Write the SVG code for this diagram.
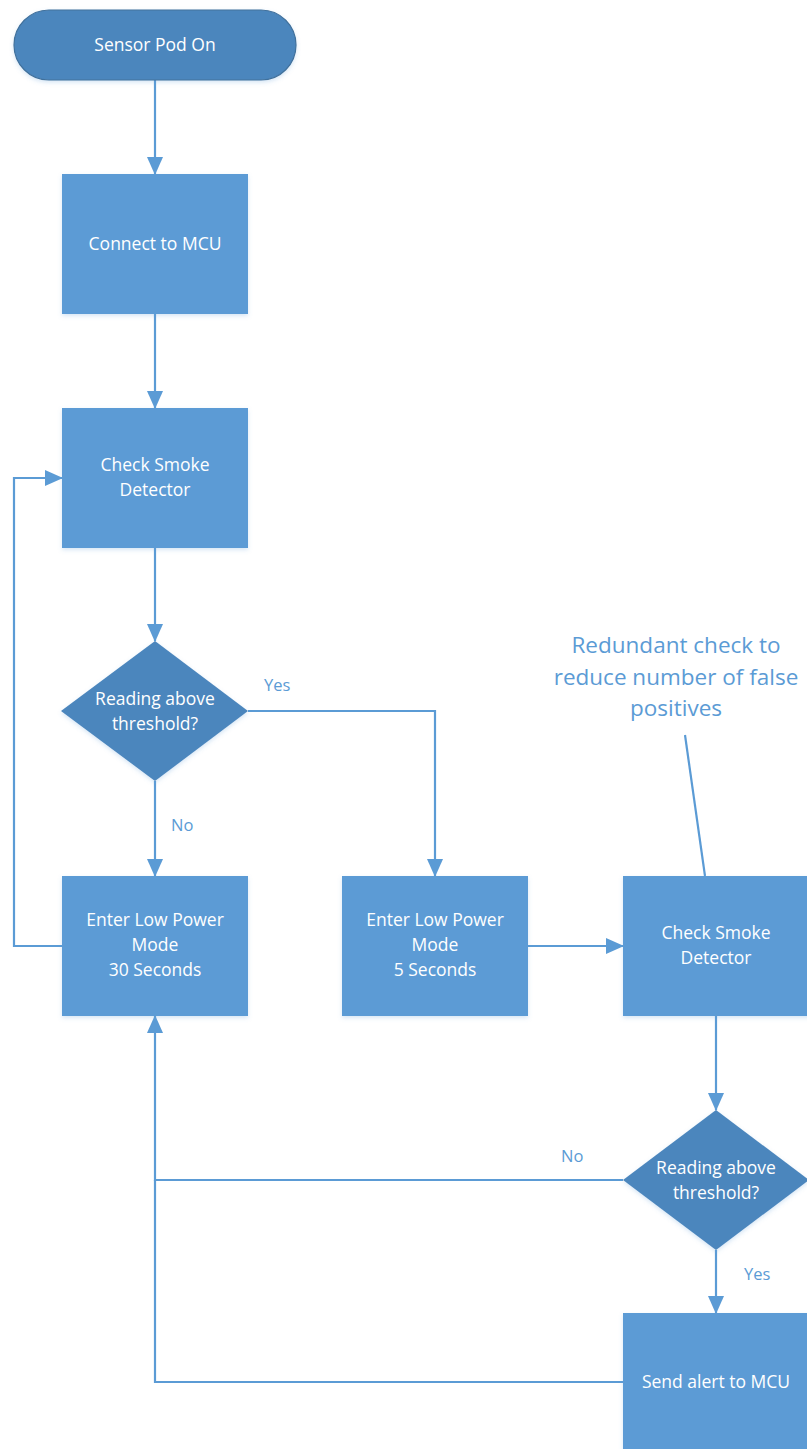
<svg xmlns="http://www.w3.org/2000/svg" width="807" height="1449" viewBox="0 0 807 1449">
<defs>
<style>
.box{fill:#5B9BD5;}
.dec{fill:#4C86BD;}
.t{font-family:"Open Sans","Liberation Sans",sans-serif;font-size:17.5px;fill:#FFFFFF;text-anchor:middle;}
.lbl{font-family:"Open Sans","Liberation Sans",sans-serif;font-size:16.5px;fill:#5B9BD5;}
.ann{font-family:"Open Sans","Liberation Sans",sans-serif;font-size:22.5px;fill:#5B9BD5;text-anchor:middle;}
.c{fill:none;stroke:#5B9BD5;stroke-width:2.2;}
</style>
<marker id="ah2" markerWidth="18" markerHeight="18" refX="17" refY="9" orient="auto" markerUnits="userSpaceOnUse" viewBox="0 0 18 18">
<path d="M0,1 L18,9 L0,17 Z" fill="#5B9BD5"/>
</marker>
<filter id="sh" x="-10%" y="-10%" width="130%" height="130%">
<feDropShadow dx="0" dy="2" stdDeviation="2" flood-color="#5B9BD5" flood-opacity="0.25"/>
</filter>
</defs>
<rect width="807" height="1449" fill="#FFFFFF"/>
<g id="connectors">
<path class="c" d="M155,80 L155,174" marker-end="url(#ah2)"/>
<path class="c" d="M155,314 L155,408" marker-end="url(#ah2)"/>
<path class="c" d="M155,548 L155,641" marker-end="url(#ah2)"/>
<path class="c" d="M155,781 L155,876" marker-end="url(#ah2)"/>
<path class="c" d="M248,711 L435,711 L435,876" marker-end="url(#ah2)"/>
<path class="c" d="M62,946 L14,946 L14,478 L62,478" marker-end="url(#ah2)"/>
<path class="c" d="M528,946 L623,946" marker-end="url(#ah2)"/>
<path class="c" d="M716,1016 L716,1110" marker-end="url(#ah2)"/>
<path class="c" d="M623,1180 L155,1180 L155,1016" marker-end="url(#ah2)"/>
<path class="c" d="M716,1250 L716,1313" marker-end="url(#ah2)"/>
<path class="c" d="M623,1382 L155,1382 L155,1180"/>
<path class="c" d="M685,735 L705,876"/>
<text class="lbl" x="171" y="831">No</text>
<text class="lbl" x="264" y="691">Yes</text>
<text class="lbl" x="561" y="1162">No</text>
<text class="lbl" x="744" y="1280">Yes</text>
</g>
<g id="start">
<rect x="14" y="10" width="282" height="70" rx="35" ry="35" class="dec" stroke="#41719C" stroke-width="1.2" filter="url(#sh)"/>
<text class="t" x="155" y="51">Sensor Pod On</text>
</g>
<g id="connect">
<rect x="62" y="174" width="186" height="140" class="box" filter="url(#sh)"/>
<text class="t" x="155" y="250">Connect to MCU</text>
</g>
<g id="check1">
<rect x="62" y="408" width="186" height="140" class="box" filter="url(#sh)"/>
<text class="t" x="155" y="471">Check Smoke</text>
<text class="t" x="155" y="496">Detector</text>
</g>
<g id="decision1">
<polygon points="155,641 248,711 155,781 61,711" class="dec" filter="url(#sh)"/>
<text class="t" x="155" y="705">Reading above</text>
<text class="t" x="155" y="730">threshold?</text>
</g>
<g id="lowpower30">
<rect x="62" y="876" width="186" height="140" class="box" filter="url(#sh)"/>
<text class="t" x="155" y="926">Enter Low Power</text>
<text class="t" x="155" y="951">Mode</text>
<text class="t" x="155" y="976">30 Seconds</text>
</g>
<g id="lowpower5">
<rect x="342" y="876" width="186" height="140" class="box" filter="url(#sh)"/>
<text class="t" x="435" y="926">Enter Low Power</text>
<text class="t" x="435" y="951">Mode</text>
<text class="t" x="435" y="976">5 Seconds</text>
</g>
<g id="check2">
<rect x="623" y="876" width="190" height="140" class="box" filter="url(#sh)"/>
<text class="t" x="716" y="939">Check Smoke</text>
<text class="t" x="716" y="964">Detector</text>
</g>
<g id="decision2">
<polygon points="716,1110 809,1180 716,1250 623,1180" class="dec" filter="url(#sh)"/>
<text class="t" x="716" y="1174">Reading above</text>
<text class="t" x="716" y="1199">threshold?</text>
</g>
<g id="alert">
<rect x="623" y="1313" width="190" height="140" class="box" filter="url(#sh)"/>
<text class="t" x="716" y="1388">Send alert to MCU</text>
</g>
<g id="annotation">
<text class="ann" x="676" y="653">Redundant check to</text>
<text class="ann" x="676" y="685">reduce number of false</text>
<text class="ann" x="676" y="716">positives</text>
</g>
</svg>
